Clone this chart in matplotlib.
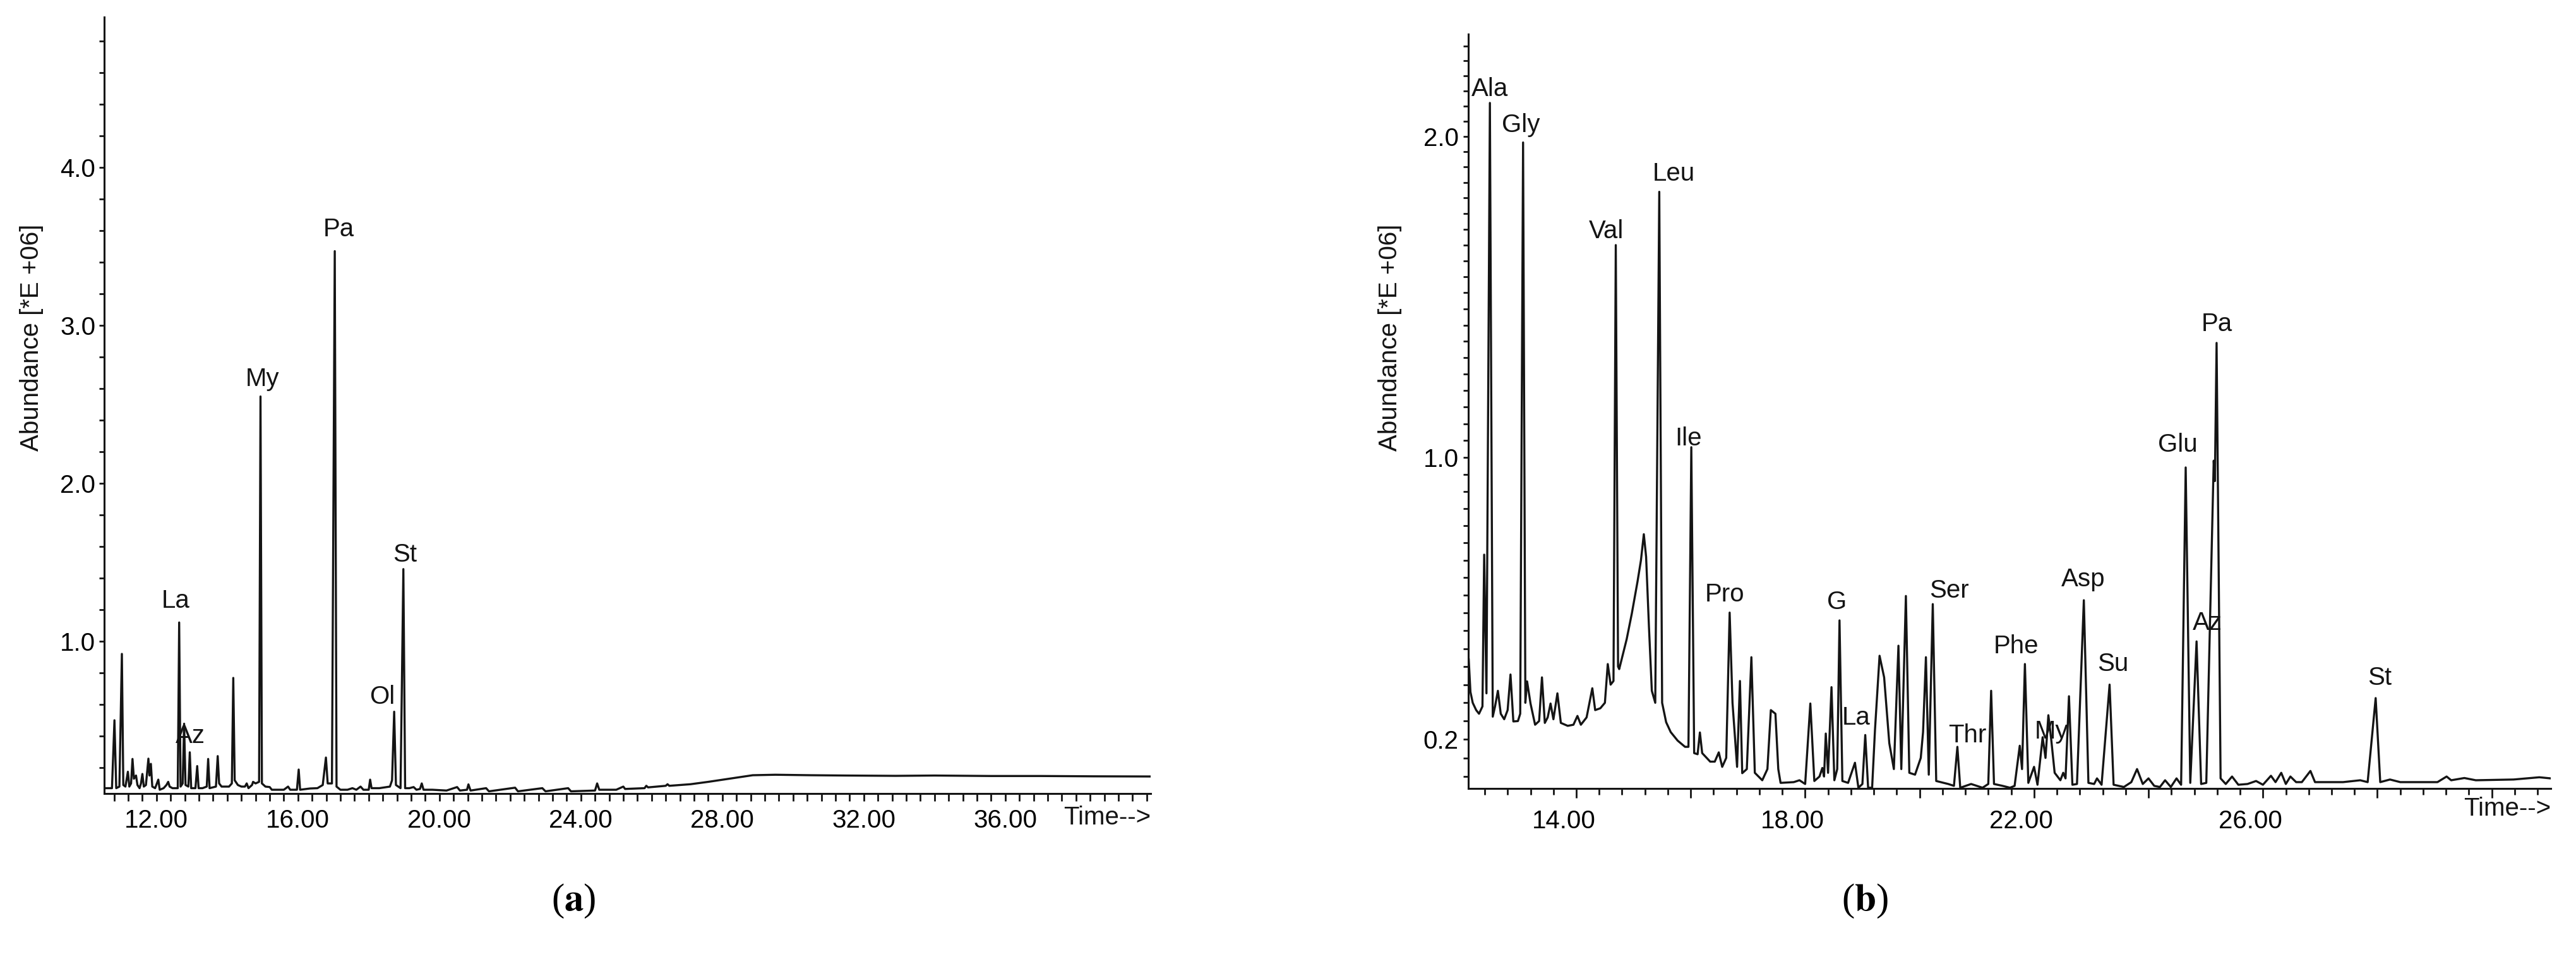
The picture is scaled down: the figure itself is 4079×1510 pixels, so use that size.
import numpy as np
import matplotlib
matplotlib.use("Agg")
import matplotlib.pyplot as plt
from matplotlib.ticker import MultipleLocator, FixedLocator, FixedFormatter, FormatStrFormatter
from matplotlib.transforms import ScaledTranslation

plt.rcParams['font.family'] = ['Liberation Sans', 'DejaVu Sans']
plt.rcParams['mathtext.fontset'] = 'stix'

# ---- panel (a): chromatogram vertices (time, abundance *E+06)
trace_a = [
    (10.52, 0.07), (10.74, 0.07), (10.81, 0.50), (10.86, 0.07), (10.95, 0.08), (11.02, 0.92),
    (11.06, 0.09), (11.12, 0.08), (11.19, 0.174), (11.23, 0.08), (11.28, 0.10), (11.32, 0.255),
    (11.36, 0.13), (11.42, 0.15), (11.46, 0.09), (11.52, 0.07), (11.56, 0.10), (11.60, 0.16),
    (11.64, 0.08), (11.70, 0.09), (11.77, 0.257), (11.80, 0.15), (11.84, 0.224), (11.88, 0.08),
    (11.96, 0.07), (12.05, 0.124), (12.09, 0.06), (12.20, 0.07), (12.28, 0.09), (12.33, 0.11),
    (12.37, 0.08), (12.45, 0.07), (12.60, 0.07), (12.64, 1.119), (12.68, 0.08), (12.74, 0.10),
    (12.78, 0.478), (12.82, 0.09), (12.90, 0.08), (12.94, 0.297), (12.98, 0.07), (13.10, 0.07),
    (13.15, 0.21), (13.19, 0.07), (13.30, 0.07), (13.42, 0.08), (13.46, 0.255), (13.50, 0.07),
    (13.68, 0.08), (13.73, 0.273), (13.77, 0.10), (13.84, 0.08), (14.05, 0.08), (14.13, 0.10),
    (14.17, 0.768), (14.21, 0.12), (14.30, 0.09), (14.40, 0.08), (14.50, 0.08), (14.55, 0.10),
    (14.60, 0.07), (14.70, 0.09), (14.73, 0.11), (14.80, 0.10), (14.90, 0.11), (14.94, 2.55),
    (14.98, 0.10), (15.08, 0.08), (15.20, 0.077), (15.26, 0.06), (15.45, 0.06), (15.60, 0.06),
    (15.72, 0.08), (15.78, 0.06), (15.97, 0.06), (16.02, 0.188), (16.06, 0.06), (16.34, 0.068),
    (16.55, 0.07), (16.70, 0.09), (16.79, 0.264), (16.84, 0.10), (16.96, 0.10), (17.04, 3.47),
    (17.09, 0.08), (17.20, 0.06), (17.40, 0.06), (17.54, 0.07), (17.65, 0.06), (17.77, 0.08),
    (17.85, 0.06), (18.00, 0.06), (18.04, 0.124), (18.08, 0.07), (18.30, 0.07), (18.60, 0.08),
    (18.66, 0.12), (18.72, 0.554), (18.77, 0.09), (18.90, 0.07), (18.98, 1.457), (19.03, 0.07),
    (19.15, 0.07), (19.27, 0.077), (19.35, 0.06), (19.45, 0.065), (19.50, 0.10), (19.55, 0.06),
    (19.80, 0.06), (20.20, 0.055), (20.50, 0.077), (20.58, 0.055), (20.78, 0.06), (20.82, 0.094),
    (20.88, 0.055), (21.32, 0.07), (21.40, 0.05), (22.14, 0.073), (22.22, 0.05), (22.91, 0.07),
    (23.00, 0.05), (23.64, 0.07), (23.72, 0.05), (24.40, 0.055), (24.46, 0.10), (24.52, 0.06),
    (25.00, 0.06), (25.20, 0.08), (25.25, 0.065), (25.80, 0.07), (25.85, 0.085), (25.90, 0.075),
    (26.40, 0.085), (26.45, 0.095), (26.50, 0.085), (27.10, 0.095), (27.60, 0.11), (28.20, 0.13),
    (28.86, 0.152), (29.50, 0.155), (30.50, 0.152), (31.50, 0.150), (32.90, 0.148), (34.00, 0.150),
    (35.60, 0.147), (37.00, 0.147), (38.50, 0.145), (40.10, 0.144),
]
names_a = ['La', 'Az', 'My', 'Pa', 'Ol', 'St']
label_t_a = [12.55, 12.95, 15.00, 17.16, 18.39, 19.02]
label_v_a = [1.256, 0.40, 2.66, 3.61, 0.648, 1.55]
xticks_a = [12, 16, 20, 24, 28, 32, 36]
yticks_a = [1.0, 2.0, 3.0, 4.0]

# ---- panel (b)
trace_b = [
    (12.12, 0.42), (12.15, 0.33), (12.19, 0.30), (12.25, 0.28), (12.30, 0.27), (12.36, 0.29),
    (12.39, 0.716), (12.43, 0.326), (12.49, 2.11), (12.54, 0.262), (12.58, 0.29), (12.63, 0.333),
    (12.68, 0.27), (12.74, 0.255), (12.80, 0.28), (12.85, 0.378), (12.90, 0.249), (12.98, 0.25),
    (13.02, 0.27), (13.07, 1.98), (13.11, 0.30), (13.14, 0.359), (13.20, 0.298), (13.28, 0.24),
    (13.35, 0.25), (13.40, 0.37), (13.45, 0.245), (13.50, 0.26), (13.55, 0.298), (13.60, 0.255),
    (13.67, 0.326), (13.73, 0.245), (13.85, 0.237), (13.95, 0.24), (14.02, 0.264), (14.08, 0.24),
    (14.18, 0.26), (14.28, 0.34), (14.33, 0.28), (14.42, 0.285), (14.50, 0.30), (14.55, 0.407),
    (14.60, 0.35), (14.65, 0.36), (14.69, 1.65), (14.73, 0.40), (14.75, 0.393), (14.88, 0.476),
    (14.97, 0.548), (15.07, 0.639), (15.13, 0.70), (15.18, 0.775), (15.22, 0.71), (15.27, 0.51),
    (15.32, 0.333), (15.38, 0.30), (15.45, 1.82), (15.50, 0.30), (15.57, 0.247), (15.65, 0.22),
    (15.77, 0.197), (15.90, 0.18), (15.96, 0.18), (16.01, 1.03), (16.06, 0.163), (16.12, 0.16),
    (16.16, 0.219), (16.20, 0.163), (16.34, 0.14), (16.42, 0.14), (16.49, 0.165), (16.55, 0.126),
    (16.62, 0.15), (16.68, 0.551), (16.73, 0.30), (16.81, 0.126), (16.86, 0.36), (16.90, 0.109),
    (16.98, 0.12), (17.06, 0.426), (17.12, 0.11), (17.25, 0.09), (17.34, 0.12), (17.40, 0.28),
    (17.48, 0.27), (17.53, 0.12), (17.57, 0.083), (17.80, 0.085), (17.90, 0.09), (18.00, 0.08),
    (18.09, 0.298), (18.16, 0.088), (18.25, 0.10), (18.30, 0.123), (18.33, 0.10), (18.36, 0.216),
    (18.40, 0.11), (18.46, 0.343), (18.51, 0.09), (18.56, 0.12), (18.60, 0.529), (18.65, 0.088),
    (18.75, 0.083), (18.87, 0.137), (18.93, 0.07), (19.00, 0.08), (19.05, 0.212), (19.10, 0.07),
    (19.17, 0.07), (19.22, 0.226), (19.30, 0.43), (19.38, 0.37), (19.47, 0.19), (19.55, 0.12),
    (19.63, 0.458), (19.68, 0.12), (19.76, 0.598), (19.82, 0.11), (19.92, 0.105), (20.02, 0.15),
    (20.06, 0.22), (20.11, 0.426), (20.16, 0.105), (20.23, 0.575), (20.29, 0.088), (20.50, 0.08),
    (20.60, 0.075), (20.66, 0.18), (20.71, 0.07), (20.90, 0.08), (21.10, 0.07), (21.20, 0.08),
    (21.25, 0.333), (21.30, 0.08), (21.45, 0.075), (21.58, 0.07), (21.66, 0.075), (21.75, 0.183),
    (21.79, 0.12), (21.84, 0.407), (21.90, 0.083), (22.00, 0.126), (22.06, 0.078), (22.15, 0.206),
    (22.20, 0.15), (22.25, 0.266), (22.30, 0.20), (22.36, 0.11), (22.46, 0.09), (22.51, 0.11),
    (22.55, 0.095), (22.61, 0.318), (22.67, 0.078), (22.75, 0.08), (22.87, 0.586), (22.95, 0.083),
    (23.05, 0.08), (23.10, 0.095), (23.18, 0.078), (23.32, 0.35), (23.39, 0.078), (23.57, 0.072),
    (23.70, 0.085), (23.80, 0.12), (23.90, 0.08), (24.00, 0.095), (24.10, 0.075), (24.20, 0.072),
    (24.29, 0.09), (24.39, 0.072), (24.49, 0.095), (24.57, 0.078), (24.65, 0.97), (24.73, 0.083),
    (24.84, 0.47), (24.92, 0.08), (25.01, 0.083), (25.14, 0.99), (25.16, 0.93), (25.19, 1.345),
    (25.26, 0.095), (25.35, 0.08), (25.46, 0.10), (25.57, 0.078), (25.73, 0.08), (25.88, 0.088),
    (26.00, 0.078), (26.14, 0.102), (26.22, 0.085), (26.32, 0.11), (26.40, 0.08), (26.48, 0.10),
    (26.58, 0.085), (26.68, 0.085), (26.83, 0.115), (26.91, 0.085), (27.40, 0.085), (27.70, 0.09),
    (27.83, 0.085), (27.97, 0.313), (28.05, 0.085), (28.22, 0.092), (28.40, 0.085), (29.05, 0.085),
    (29.21, 0.10), (29.29, 0.09), (29.52, 0.096), (29.72, 0.09), (30.38, 0.092), (30.83, 0.098),
    (31.03, 0.095),
]
names_b = ['Ala', 'Gly', 'Val', 'Leu', 'Ile', 'Pro', 'G', 'La', 'Ser', 'Thr',
           'Phe', 'My', 'Asp', 'Su', 'Glu', 'Az', 'Pa', 'St']
label_t_b = [12.49, 13.03, 14.52, 15.70, 15.96, 16.59, 18.55, 18.89, 20.52, 20.84,
             21.69, 22.30, 22.86, 23.38, 24.51, 25.03, 25.20, 28.04]
label_v_b = [2.156, 2.037, 1.694, 1.879, 1.056, 0.603, 0.58, 0.259, 0.613, 0.211,
             0.457, 0.221, 0.645, 0.407, 1.037, 0.521, 1.403, 0.369]
xticks_b = [12, 14, 16, 18, 20, 22, 24, 26, 28, 30]
xticklabels_b = ['', '14.00', '', '18.00', '', '22.00', '', '26.00', '', '']
yticks_b = [0.2, 1.0, 2.0]


def fwd(v):
    return np.log(np.asarray(v, dtype=float) + 8.5)


def inv(u):
    return np.exp(u) - 8.5


W, H, DPI = 4079, 1510, 200
fig = plt.figure(figsize=(W / DPI, H / DPI), dpi=DPI)
ink = '#141414'
fs = 14.5
lw = 1.2

# ---------- (a)
ax1 = fig.add_axes([0.04045, 0.1682, 0.4062, 0.8139])
t, v = zip(*trace_a)
ax1.plot(t, v, color=ink, lw=lw)
ax1.set_xlim(10.52, 40.11)
ax1.set_ylim(0.036, 4.952)
ax1.xaxis.set_major_locator(FixedLocator(xticks_a))
ax1.xaxis.set_major_formatter(FormatStrFormatter('%.2f'))
ax1.xaxis.set_minor_locator(MultipleLocator(0.4))
ax1.yaxis.set_major_locator(FixedLocator(yticks_a))
ax1.yaxis.set_major_formatter(FormatStrFormatter('%.1f'))
ax1.yaxis.set_minor_locator(MultipleLocator(0.2))
ax1.tick_params(axis='x', which='both', direction='out', length=4.3, width=1.0,
                pad=4.3, labelsize=fs, color=ink)
ax1.tick_params(axis='y', which='both', direction='out', length=3.0, width=1.0,
                pad=2.0, labelsize=fs, color=ink)
for n, tx, vy in zip(names_a, label_t_a, label_v_a):
    ax1.text(tx, vy, n, ha='center', va='center', fontsize=fs, color=ink)
ax1.set_ylabel('Abundance [*E +06]', fontsize=fs, color=ink)
ax1.yaxis.set_label_coords(-0.058, 0.587)
ax1.text(1.0, -0.031, 'Time-->', transform=ax1.transAxes, ha='right', va='center',
         fontsize=fs, color=ink)

# ---------- (b)
ax2 = fig.add_axes([0.5700, 0.1735, 0.4202, 0.7907])
ax2.set_yscale('function', functions=(fwd, inv))
t, v = zip(*trace_b)
ax2.plot(t, v, color=ink, lw=lw)
ax2.set_xlim(12.113, 31.03)
ax2.set_ylim(0.068, 2.34)
ax2.xaxis.set_major_locator(FixedLocator(xticks_b))
ax2.xaxis.set_major_formatter(FixedFormatter(xticklabels_b))
ax2.xaxis.set_minor_locator(MultipleLocator(0.4))
ax2.yaxis.set_major_locator(FixedLocator(yticks_b))
ax2.yaxis.set_major_formatter(FormatStrFormatter('%.1f'))
ax2.yaxis.set_minor_locator(MultipleLocator(0.05))
ax2.tick_params(axis='x', which='major', direction='out', length=5.4, width=1.0,
                pad=6.5, labelsize=fs, color=ink)
ax2.tick_params(axis='x', which='minor', direction='out', length=3.6, width=1.0, color=ink)
ax2.tick_params(axis='y', which='both', direction='out', length=3.0, width=1.0,
                pad=2.5, labelsize=fs, color=ink)
shift = ScaledTranslation(-20 / DPI, 0, fig.dpi_scale_trans)
for lab in ax2.get_xticklabels():
    lab.set_transform(lab.get_transform() + shift)
for n, tx, vy in zip(names_b, label_t_b, label_v_b):
    ax2.text(tx, vy, n, ha='center', va='center', fontsize=fs, color=ink)
ax2.set_ylabel('Abundance [*E +06]', fontsize=fs, color=ink)
ax2.yaxis.set_label_coords(-0.0613, 0.598)
ax2.text(1.0, -0.027, 'Time-->', transform=ax2.transAxes, ha='right', va='center',
         fontsize=fs, color=ink)

for ax in (ax1, ax2):
    ax.spines['top'].set_visible(False)
    ax.spines['right'].set_visible(False)
    for s in ('left', 'bottom'):
        ax.spines[s].set_linewidth(1.1)
        ax.spines[s].set_color(ink)

# panel captions
cap = dict(ha='center', va='center', fontsize=22, family='Liberation Serif', color='black')
fig.text(908 / W, 1 - 1426 / H, r'($\mathbf{a}$)', **cap)
fig.text(2953 / W, 1 - 1426 / H, r'($\mathbf{b}$)', **cap)

fig.savefig('out.png', dpi=DPI, facecolor='white')
